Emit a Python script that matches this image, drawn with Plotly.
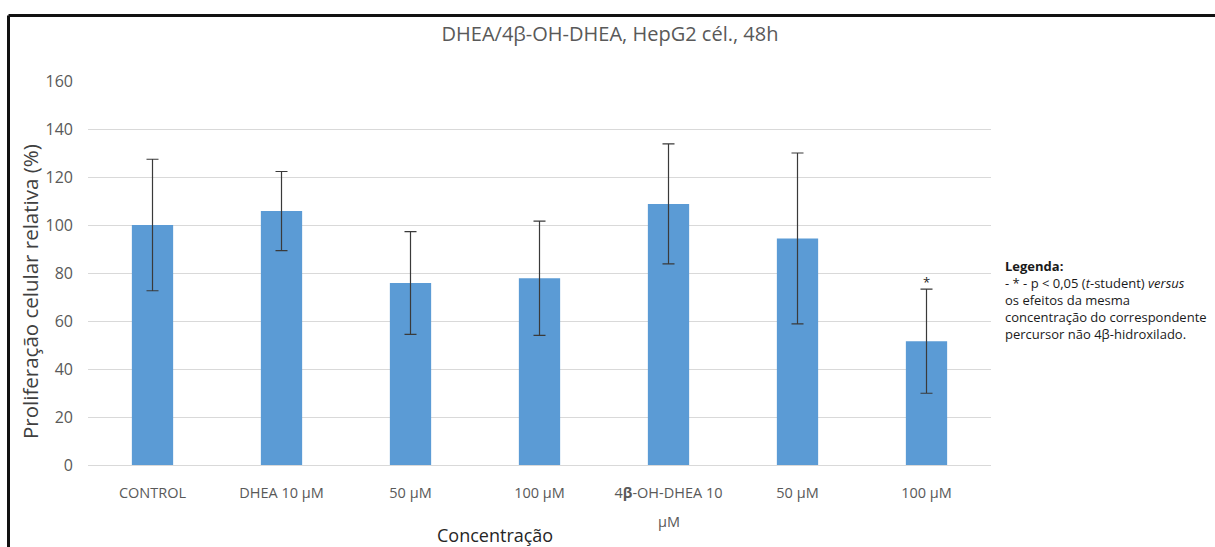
import plotly.graph_objects as go

categories = ["CONTROL", "DHEA 10 µM", "50 µM", "100 µM",
              "4<b>β</b>-OH-DHEA 10", "50 µM", "100 µM"]
second_line = ["", "", "", "", "µM", "", ""]
values = [100, 105.8, 75.8, 77.8, 108.8, 94.4, 51.6]
errors = [27.4, 16.5, 21.4, 23.8, 25.0, 35.6, 21.7]
signif = [False, False, False, False, False, False, True]

y_ticks = [0, 20, 40, 60, 80, 100, 120, 140, 160]

W, H = 1215, 547
L, R, T, B = 88, 224, 81, 82
pw, ph = W - L - R, H - T - B

def px(x):
    return (x - L) / pw

def py(y):
    return (H - B - y) / ph

xs = list(range(len(categories)))

fig = go.Figure()
fig.add_trace(go.Bar(
    x=xs, y=values,
    marker=dict(color="#5B9BD5", line=dict(width=0)),
    error_y=dict(type="data", array=errors, visible=True,
                 color="#3a3a3a", thickness=1.2, width=6),
    width=0.32,
    showlegend=False,
))

for i, s in enumerate(signif):
    if s:
        fig.add_annotation(x=xs[i], y=values[i] + errors[i], text="*",
                           showarrow=False, yanchor="bottom", yshift=-4,
                           font=dict(family="Open Sans", size=13, color="#262626"))

for i, t in enumerate(second_line):
    if t:
        fig.add_annotation(x=xs[i], xref="x", yref="paper", y=py(521), text=t,
                           showarrow=False, xanchor="center", yanchor="middle",
                           font=dict(family="Open Sans", size=14.5, color="#595959"))

fig.update_layout(
    width=W, height=H,
    margin=dict(l=L, r=R, t=T, b=B),
    paper_bgcolor="white", plot_bgcolor="white",
    title=dict(text="DHEA/4β-OH-DHEA, HepG2 cél., 48h",
               x=(610) / W, xanchor="center", y=1 - 34 / H, yanchor="middle",
               font=dict(family="Open Sans", size=20, color="#595959")),
    xaxis=dict(tickvals=xs, ticktext=categories, range=[-0.5, len(xs) - 0.5],
               showgrid=False, zeroline=False, showline=False, ticks="",
               tickfont=dict(family="Open Sans", size=14.5, color="#595959"),
               ticklabelstandoff=17),
    yaxis=dict(range=[0, 160], tickvals=y_ticks, showgrid=True,
               gridcolor="#d9d9d9", gridwidth=1, zeroline=True,
               zerolinecolor="#d9d9d9", zerolinewidth=1, showline=False, ticks="",
               tickfont=dict(family="Open Sans", size=16, color="#595959"),
               ticklabelstandoff=14),
)

# axis titles
fig.add_annotation(xref="paper", yref="paper", x=px(30), y=py(292),
                   text="Proliferação celular relativa (%)", textangle=-90,
                   showarrow=False, xanchor="center", yanchor="middle",
                   font=dict(family="Open Sans", size=20.5, color="#404040"))
fig.add_annotation(xref="paper", yref="paper", x=px(495), y=py(535),
                   text="Concentração", showarrow=False,
                   xanchor="center", yanchor="middle",
                   font=dict(family="Open Sans", size=18, color="#262626"))

# legend note
fig.add_annotation(xref="paper", yref="paper", x=px(1003), y=py(255),
                   xanchor="left", yanchor="top", align="left", showarrow=False,
                   text=("<b>Legenda:</b><br>- * - p &lt; 0,05 (<i>t</i>-student) <i>versus</i><br>"
                         "os efeitos da mesma<br>concentração do correspondente<br>"
                         "percursor não 4β-hidroxilado."),
                   font=dict(family="Open Sans", size=13, color="#1a1a1a"))

# frame border
fig.add_shape(type="line", xref="paper", yref="paper",
              x0=px(8.5), x1=px(1225), y0=py(15.5), y1=py(15.5),
              line=dict(color="#111111", width=3))
fig.add_shape(type="line", xref="paper", yref="paper",
              x0=px(8.5), x1=px(8.5), y0=py(15.5), y1=py(560),
              line=dict(color="#111111", width=3))

fig.write_html("out.html")
